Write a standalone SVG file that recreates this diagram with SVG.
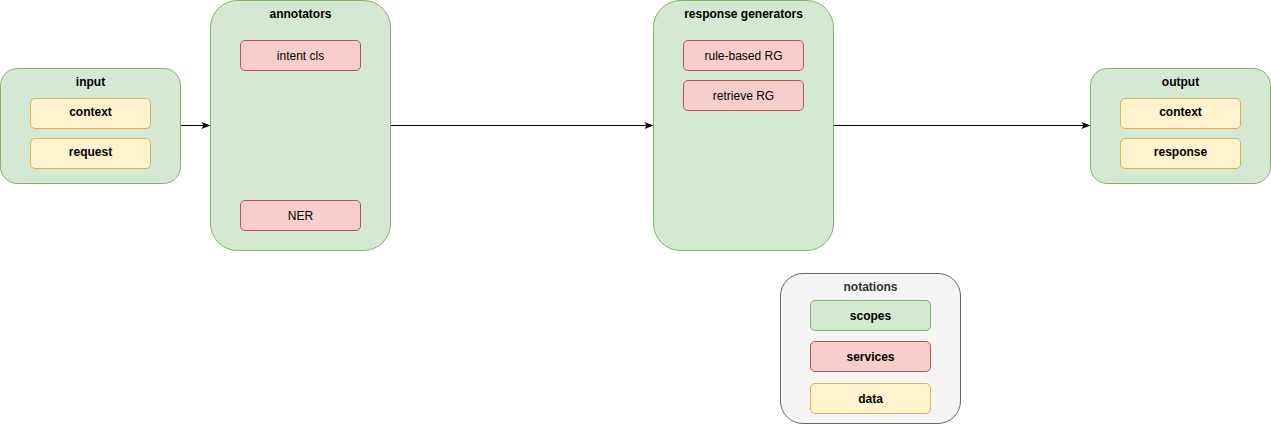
<svg xmlns="http://www.w3.org/2000/svg" width="1271" height="424" viewBox="0 0 1271 424">
<style>
text{font-family:"Liberation Sans",Arial,sans-serif;font-size:12px;text-anchor:middle;fill:#000}
.b{font-weight:bold}
.scope{fill:#d5e8d4;stroke:#82b366;stroke-width:1}
.svc{fill:#f8cecc;stroke:#b85450;stroke-width:1}
.data{fill:#fff2cc;stroke:#d6b656;stroke-width:1}
.note{fill:#f5f5f5;stroke:#666666;stroke-width:1}
.edge{stroke:#000;stroke-width:1;fill:none}
</style>
<defs>
<marker id="arr" viewBox="0 0 10 10" refX="9" refY="5" markerWidth="9" markerHeight="9" markerUnits="userSpaceOnUse" orient="auto">
<path d="M0,1 L10,5 L0,9 L2.5,5 Z" fill="#000"/>
</marker>
</defs>
<g id="connectors">
<line class="edge" x1="180.5" y1="125.5" x2="209.5" y2="125.5" marker-end="url(#arr)"/>
<line class="edge" x1="390.5" y1="125.5" x2="652.5" y2="125.5" marker-end="url(#arr)"/>
<line class="edge" x1="833.5" y1="125.5" x2="1089.5" y2="125.5" marker-end="url(#arr)"/>
</g>
<g id="input">
<rect class="scope" x="0.5" y="68.5" width="180" height="115" rx="17" ry="17"/>
<text class="b" x="90.5" y="86">input</text>
<g id="input-context"><rect class="data" x="30.5" y="98.5" width="120" height="30" rx="4.5"/><text class="b" x="90.5" y="116">context</text></g>
<g id="input-request"><rect class="data" x="30.5" y="138.5" width="120" height="30" rx="4.5"/><text class="b" x="90.5" y="156">request</text></g>
</g>
<g id="annotators">
<rect class="scope" x="210.5" y="0.5" width="180" height="250" rx="27" ry="27"/>
<text class="b" x="300.5" y="18">annotators</text>
<g id="intent-cls"><rect class="svc" x="240.5" y="40.5" width="120" height="30" rx="4.5"/><text x="300.5" y="59.5">intent cls</text></g>
<g id="ner"><rect class="svc" x="240.5" y="200.5" width="120" height="30" rx="4.5"/><text x="300.5" y="219.5">NER</text></g>
</g>
<g id="response-generators">
<rect class="scope" x="653.5" y="0.5" width="180" height="250" rx="27" ry="27"/>
<text class="b" x="743.5" y="18">response generators</text>
<g id="rule-based-rg"><rect class="svc" x="683.5" y="40.5" width="120" height="30" rx="4.5"/><text x="743.5" y="59.5">rule-based RG</text></g>
<g id="retrieve-rg"><rect class="svc" x="683.5" y="80.5" width="120" height="30" rx="4.5"/><text x="743.5" y="99.5">retrieve RG</text></g>
</g>
<g id="output">
<rect class="scope" x="1090.5" y="68.5" width="180" height="115" rx="17" ry="17"/>
<text class="b" x="1180.5" y="86">output</text>
<g id="output-context"><rect class="data" x="1120.5" y="98.5" width="120" height="30" rx="4.5"/><text class="b" x="1180.5" y="116">context</text></g>
<g id="output-response"><rect class="data" x="1120.5" y="138.5" width="120" height="30" rx="4.5"/><text class="b" x="1180.5" y="156">response</text></g>
</g>
<g id="notations">
<rect class="note" x="780.5" y="273.5" width="180" height="150" rx="22.5" ry="22.5"/>
<text class="b" x="870.5" y="291" style="fill:#333333">notations</text>
<g id="scopes"><rect class="scope" x="810.5" y="300.5" width="120" height="30" rx="4.5"/><text class="b" x="870.5" y="319.5">scopes</text></g>
<g id="services"><rect class="svc" x="810.5" y="341.5" width="120" height="30" rx="4.5"/><text class="b" x="870.5" y="360.5">services</text></g>
<g id="data"><rect class="data" x="810.5" y="383.5" width="120" height="30" rx="4.5"/><text class="b" x="870.5" y="402.5">data</text></g>
</g>
</svg>
